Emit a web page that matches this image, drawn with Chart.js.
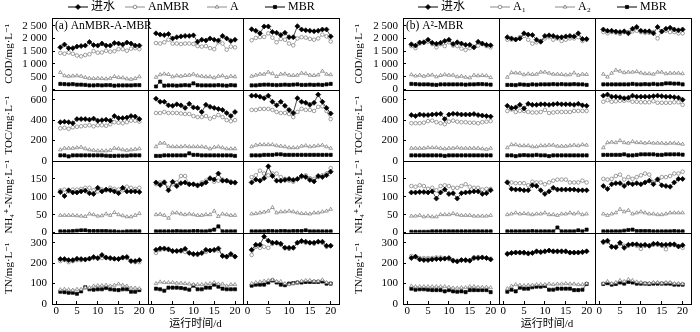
<!DOCTYPE html>
<html>
<head>
<meta charset="utf-8">
<script src="https://cdn.jsdelivr.net/npm/chart.js@4.4.1/dist/chart.umd.min.js"></script>
<style>
  html, body { margin: 0; padding: 0; background: #fff; }
  #wrap { position: relative; width: 700px; height: 332px; }
  #wrap canvas { position: absolute; top: 0; }
</style>
</head>
<body>
<div id="wrap">
  <canvas id="chart-a" width="350" height="332" style="left:0"></canvas>
  <canvas id="chart-b" width="350" height="332" style="left:350px"></canvas>
</div>
<script>
var days = [1, 2, 3, 4, 5, 6, 7, 8, 9, 10, 11, 12, 13, 14, 15, 16, 17, 18, 19, 20];
var dayTicks = [0, 5, 10, 15, 20];
var codTicks = [0, 500, 1000, 1500, 2000, 2500];
var tocTicks = [0, 200, 400, 600];
var nh4Ticks = [0, 50, 100, 150];
var tnTicks = [0, 100, 200, 300];

var seriesA = ['进水', 'AnMBR', 'A', 'MBR'];
var seriesB = ['进水', 'A₁', 'A₂', 'MBR'];

// (a) AnMBR-A-MBR — each cell holds [进水, AnMBR, A, MBR]
var codA1 = [
  [1650, 1760, 1620, 1620, 1680, 1700, 1720, 1860, 1740, 1720, 1800, 1720, 1720, 1820, 1800, 1760, 1840, 1800, 1720, 1720],
  [1430, 1400, 1450, 1400, 1330, 1300, 1350, 1380, 1500, 1440, 1450, 1520, 1480, 1500, 1580, 1580, 1520, 1600, 1620, 1580],
  [670, 540, 520, 530, 540, 520, 470, 440, 430, 440, 430, 420, 440, 510, 470, 460, 420, 400, 430, 500],
  [220, 210, 200, 210, 190, 190, 180, 160, 160, 170, 160, 170, 170, 150, 160, 160, 160, 160, 170, 170]
];
var codA2 = [
  [2200, 2150, 2130, 2170, 2000, 2050, 2080, 2100, 2100, 2120, 1870, 1950, 1920, 2000, 1950, 1920, 2100, 2000, 1900, 1950],
  [1820, 1800, 1850, 1950, 1800, 1800, 1780, 1800, 1800, 1780, 1700, 1680, 1700, 1620, 1580, 1850, 1800, 1560, 1680, 1650],
  [480, 580, 610, 590, 500, 540, 520, 550, 560, 600, 540, 520, 500, 500, 460, 520, 540, 470, 520, 500],
  [120, 310, 150, 160, 160, 150, 160, 170, 160, 240, 170, 160, 160, 160, 160, 170, 160, 150, 170, 160]
];
var codA3 = [
  [2360, 2300, 2200, 2470, 2470, 2250, 2220, 2130, 2220, 2050, 2050, 2480, 2350, 2320, 2300, 2280, 2300, 2350, 2350, 2080],
  [1930, 2020, 2050, 2060, 2200, 2030, 1850, 1980, 1950, 1800, 1730, 2000, 2050, 2030, 1980, 1950, 2000, 2150, 2080, 1880],
  [520, 560, 600, 600, 680, 620, 510, 600, 610, 560, 550, 560, 640, 620, 560, 550, 570, 720, 600, 580],
  [160, 160, 180, 190, 190, 180, 170, 180, 190, 180, 190, 200, 180, 180, 190, 180, 190, 180, 200, 220]
];
var tocA1 = [
  [380, 385, 380, 370, 410, 410, 410, 405, 415, 395, 400, 405, 395, 440, 420, 420, 425, 440, 435, 410],
  [320, 325, 315, 330, 335, 340, 345, 350, 340, 350, 350, 345, 360, 380, 375, 370, 380, 395, 395, 385],
  [110, 125, 125, 125, 130, 135, 120, 110, 105, 100, 100, 100, 105, 125, 120, 110, 105, 110, 115, 120],
  [55, 55, 45, 55, 55, 55, 55, 55, 55, 55, 55, 52, 50, 50, 52, 52, 52, 55, 55, 55]
];
var tocA2 = [
  [610, 580, 580, 545, 540, 555, 545, 520, 560, 525, 520, 480, 550, 530, 520, 510, 500, 470, 440, 480],
  [470, 470, 480, 470, 470, 470, 465, 460, 460, 440, 430, 430, 440, 415, 430, 450, 430, 400, 390, 400],
  [140, 175, 175, 145, 140, 140, 140, 145, 140, 140, 140, 140, 135, 120, 135, 140, 130, 120, 120, 120],
  [50, 50, 55, 55, 55, 55, 55, 55, 75, 60, 60, 55, 55, 55, 55, 55, 55, 55, 55, 50]
];
var tocA3 = [
  [640, 640, 630, 615, 640, 580, 545, 580, 540, 500, 470, 615, 580, 570, 550, 570, 650, 580, 520, 465],
  [500, 500, 510, 510, 510, 500, 480, 470, 470, 460, 430, 480, 510, 500, 500, 490, 530, 535, 490, 410],
  [140, 155, 160, 160, 160, 160, 150, 145, 140, 130, 130, 130, 145, 150, 140, 145, 150, 155, 140, 125],
  [55, 55, 55, 60, 60, 60, 65, 65, 60, 60, 60, 60, 60, 60, 60, 60, 60, 60, 60, 60]
];
var nh4A1 = [
  [113, 102, 118, 112, 112, 115, 117, 110, 108, 125, 115, 120, 118, 115, 110, 125, 115, 115, 115, 113],
  [118, 120, 115, 120, 120, 122, 125, 125, 118, 115, 120, 118, 125, 122, 120, 118, 128, 125, 122, 125],
  [48, 48, 48, 48, 47, 46, 45, 52, 50, 46, 47, 52, 48, 56, 50, 47, 44, 44, 48, 53],
  [3, 3, 3, 4, 5, 6, 6, 4, 4, 4, 4, 4, 3, 3, 2, 2, 3, 3, 3, 3]
];
var nh4A2 = [
  [140, 133, 140, 118, 142, 130, 138, 140, 135, 135, 132, 135, 140, 152, 148, 165, 145, 145, 140, 140],
  [135, 140, 142, 125, 135, 140, 158, 158, 135, 135, 130, 140, 145, 150, 142, 145, 148, 145, 143, 138],
  [50, 51, 48, 40, 55, 55, 52, 50, 52, 50, 48, 48, 50, 50, 60, 45, 52, 50, 48, 48],
  [3, 3, 3, 3, 3, 4, 3, 3, 3, 4, 4, 3, 3, 5, 8, 17, 3, 3, 3, 3]
];
var nh4A3 = [
  [140, 148, 145, 152, 185, 158, 145, 145, 147, 150, 147, 150, 158, 155, 147, 143, 158, 155, 160, 170],
  [155, 160, 173, 165, 160, 165, 165, 155, 150, 145, 142, 150, 155, 160, 152, 150, 155, 160, 165, 180],
  [52, 53, 55, 57, 60, 70, 55, 58, 58, 60, 58, 55, 53, 53, 52, 55, 55, 58, 60, 65],
  [3, 3, 3, 3, 4, 4, 3, 4, 4, 3, 4, 4, 4, 6, 3, 3, 3, 3, 3, 3]
];
var tnA1 = [
  [220, 220, 215, 215, 222, 220, 218, 222, 230, 225, 240, 228, 225, 222, 220, 228, 230, 210, 210, 215],
  [210, 215, 205, 210, 215, 215, 218, 222, 225, 222, 225, 225, 222, 220, 222, 225, 225, 210, 205, 205],
  [70, 72, 70, 68, 72, 72, 80, 80, 88, 90, 90, 92, 88, 92, 98, 92, 88, 78, 78, 75],
  [60, 58, 55, 55, 50, 62, 82, 72, 70, 72, 72, 78, 72, 70, 68, 72, 72, 60, 60, 68]
];
var tnA2 = [
  [265, 272, 272, 268, 260, 260, 262, 270, 250, 245, 245, 250, 265, 262, 265, 272, 235, 232, 245, 232],
  [250, 265, 268, 265, 258, 258, 258, 255, 250, 242, 240, 248, 255, 262, 262, 262, 238, 230, 240, 232],
  [100, 108, 105, 105, 105, 102, 102, 100, 98, 95, 95, 95, 98, 100, 105, 98, 98, 88, 95, 95],
  [75, 72, 65, 80, 80, 80, 78, 75, 70, 90, 72, 72, 80, 80, 95, 85, 75, 72, 72, 72]
];
var tnA3 = [
  [265, 290, 290, 330, 310, 300, 300, 295, 275, 275, 275, 300, 308, 305, 300, 300, 305, 305, 285, 285],
  [240, 280, 275, 280, 275, 295, 300, 290, 275, 270, 275, 300, 305, 300, 300, 295, 305, 300, 280, 285],
  [100, 105, 108, 112, 115, 118, 110, 110, 100, 95, 100, 105, 112, 115, 115, 112, 112, 118, 105, 100],
  [90, 95, 95, 95, 105, 115, 105, 95, 92, 100, 102, 105, 105, 108, 108, 108, 108, 110, 100, 100]
];

// (b) A²-MBR — each cell holds [进水, A₁, A₂, MBR]
var codB1 = [
  [1770, 1720, 1840, 1850, 1950, 1830, 1790, 1830, 1900, 1950, 1780, 1850, 1800, 1750, 1750, 1650, 1870, 1800, 1750, 1730],
  [1700, 1620, 1800, 1830, 1870, 1780, 1650, 1780, 1700, 1850, 1720, 1700, 1600, 1550, 1620, 1650, 1720, 1780, 1700, 1650],
  [580, 530, 560, 520, 560, 570, 500, 550, 580, 560, 560, 500, 520, 480, 460, 560, 540, 550, 540, 470],
  [220, 210, 200, 200, 200, 190, 180, 200, 200, 200, 200, 200, 200, 190, 200, 200, 210, 210, 200, 190]
];
var codB2 = [
  [2050, 2000, 1960, 2000, 2200, 2150, 2130, 1950, 1870, 2100, 2120, 2100, 2050, 2050, 2080, 2100, 2080, 2200, 1980, 1980],
  [1950, 1950, 1950, 2050, 2100, 1950, 1800, 1850, 1900, 2000, 2050, 1950, 2000, 1900, 1950, 2000, 2000, 2050, 1900, 1950],
  [480, 660, 650, 640, 580, 610, 590, 600, 680, 680, 640, 600, 600, 590, 570, 580, 650, 560, 600, 590],
  [180, 180, 170, 200, 190, 180, 200, 190, 200, 200, 200, 210, 200, 210, 200, 200, 210, 200, 200, 180]
];
var codB3 = [
  [2350, 2300, 2300, 2270, 2250, 2280, 2200, 2380, 2450, 2300, 2280, 2280, 2200, 2450, 2270, 2380, 2420, 2350, 2320, 2350],
  [2250, 2200, 2250, 2220, 2180, 2250, 2250, 2280, 2300, 2250, 2220, 2220, 2250, 2000, 2280, 2300, 2250, 2250, 2200, 2200],
  [600, 490, 640, 760, 720, 660, 680, 680, 700, 650, 620, 620, 600, 680, 680, 620, 640, 640, 640, 620],
  [200, 200, 200, 200, 200, 200, 200, 220, 200, 200, 210, 200, 220, 200, 210, 240, 240, 230, 230, 200]
];
var tocB1 = [
  [450, 440, 455, 450, 450, 455, 458, 462, 410, 455, 462, 460, 455, 455, 455, 460, 450, 445, 440, 435],
  [370, 370, 370, 375, 390, 395, 380, 370, 360, 385, 395, 385, 380, 380, 375, 375, 370, 380, 385, 390],
  [125, 125, 125, 125, 130, 130, 130, 125, 120, 125, 125, 130, 125, 125, 125, 125, 125, 120, 115, 125],
  [55, 55, 55, 55, 55, 55, 55, 55, 50, 55, 55, 55, 55, 55, 55, 55, 55, 55, 55, 55]
];
var tocB2 = [
  [540, 520, 525, 550, 515, 560, 550, 550, 555, 555, 550, 555, 560, 555, 555, 555, 550, 560, 545, 540],
  [490, 505, 480, 490, 490, 480, 475, 475, 480, 500, 470, 475, 480, 480, 480, 480, 490, 490, 490, 490],
  [130, 160, 160, 150, 150, 150, 140, 140, 150, 150, 155, 155, 145, 145, 145, 150, 155, 150, 160, 155],
  [55, 55, 48, 55, 58, 55, 55, 60, 55, 55, 48, 55, 55, 55, 55, 55, 55, 55, 55, 55]
];
var tocB3 = [
  [640, 650, 630, 630, 625, 615, 620, 640, 630, 630, 630, 630, 635, 640, 635, 630, 630, 625, 620, 600],
  [580, 595, 580, 585, 590, 590, 595, 580, 580, 575, 575, 575, 585, 570, 570, 570, 570, 575, 575, 550],
  [130, 180, 185, 180, 200, 180, 175, 190, 180, 180, 175, 180, 175, 175, 175, 170, 175, 175, 170, 165],
  [60, 60, 60, 60, 60, 65, 55, 55, 60, 65, 65, 65, 65, 60, 60, 65, 65, 65, 65, 62]
];
var nh4B1 = [
  [112, 112, 113, 113, 112, 115, 95, 112, 120, 108, 110, 95, 110, 112, 113, 115, 115, 108, 110, 118],
  [130, 128, 132, 130, 122, 125, 118, 130, 132, 130, 125, 125, 130, 135, 128, 125, 125, 120, 122, 122],
  [46, 46, 48, 44, 46, 44, 44, 50, 50, 50, 53, 50, 48, 48, 48, 46, 46, 46, 46, 48],
  [2, 2, 2, 2, 2, 3, 3, 3, 3, 3, 3, 3, 3, 3, 3, 3, 3, 3, 3, 3]
];
var nh4B2 = [
  [140, 122, 120, 120, 118, 118, 132, 130, 118, 108, 115, 125, 120, 120, 120, 120, 120, 118, 118, 118],
  [142, 140, 138, 138, 138, 132, 142, 140, 140, 135, 140, 145, 148, 148, 148, 140, 140, 140, 145, 140],
  [50, 52, 55, 52, 53, 52, 50, 52, 52, 55, 50, 50, 48, 52, 52, 55, 52, 55, 50, 52],
  [3, 3, 3, 3, 3, 3, 4, 3, 3, 3, 3, 3, 14, 3, 3, 3, 3, 6, 3, 8]
];
var nh4B3 = [
  [130, 122, 135, 138, 138, 130, 138, 135, 138, 135, 140, 145, 135, 148, 132, 130, 128, 140, 150, 150],
  [150, 148, 150, 158, 162, 148, 155, 150, 155, 160, 165, 162, 140, 150, 155, 155, 158, 165, 165, 170],
  [52, 48, 52, 55, 65, 58, 62, 52, 55, 58, 55, 52, 52, 50, 50, 52, 55, 55, 55, 55],
  [3, 3, 3, 3, 3, 5, 7, 8, 4, 4, 4, 4, 3, 3, 3, 3, 3, 4, 3, 3]
];
var tnB1 = [
  [225, 232, 218, 215, 215, 218, 220, 220, 222, 225, 212, 208, 215, 215, 212, 225, 225, 228, 225, 218],
  [235, 230, 225, 225, 225, 225, 228, 228, 225, 220, 215, 212, 215, 212, 215, 228, 230, 228, 225, 222],
  [88, 85, 85, 85, 85, 85, 85, 85, 85, 82, 78, 78, 80, 80, 85, 85, 82, 82, 82, 80],
  [75, 70, 72, 72, 70, 68, 68, 68, 62, 68, 62, 60, 62, 58, 68, 68, 68, 68, 68, 58]
];
var tnB2 = [
  [245, 250, 252, 252, 252, 248, 250, 258, 255, 258, 262, 258, 258, 258, 258, 252, 252, 252, 255, 258],
  [248, 250, 252, 250, 248, 245, 250, 255, 252, 255, 260, 255, 255, 255, 255, 250, 250, 252, 252, 258],
  [75, 88, 95, 92, 90, 92, 92, 95, 95, 95, 98, 95, 98, 98, 100, 98, 98, 95, 95, 100],
  [60, 70, 62, 80, 75, 75, 82, 85, 85, 88, 70, 70, 75, 75, 75, 75, 68, 68, 70, 98]
];
var tnB3 = [
  [305, 310, 280, 278, 300, 275, 290, 292, 292, 288, 290, 285, 295, 295, 290, 290, 292, 292, 282, 288],
  [300, 305, 280, 280, 295, 285, 285, 292, 285, 270, 285, 285, 290, 290, 285, 268, 288, 288, 282, 275],
  [100, 110, 100, 105, 115, 110, 120, 115, 108, 105, 102, 102, 105, 105, 102, 105, 105, 100, 100, 98],
  [98, 102, 95, 98, 105, 100, 108, 105, 100, 100, 100, 98, 100, 100, 100, 100, 100, 95, 95, 95]
];

var serif = "'Liberation Serif', 'Times New Roman', 'DejaVu Serif', serif";
var cjk = "'Liberation Serif', 'Noto Sans CJK SC', serif";

// line / marker look of the four stages, same order as the series labels
var styles = [
  { line: '#000', point: 'rectRot', radius: 2.5, fill: '#000', edge: '#000' },
  { line: '#8c8c8c', point: 'circle', radius: 1.8, fill: '#fff', edge: '#777' },
  { line: '#8c8c8c', point: 'triangle', radius: 2.1, fill: '#fff', edge: '#777' },
  { line: '#000', point: 'rect', radius: 2.2, fill: '#000', edge: '#000' }
];

var rowDefs = [
  { title: 'COD/mg·L⁻¹', max: 2800, ticks: codTicks },
  { title: 'TOC/mg·L⁻¹', max: 700, ticks: tocTicks },
  { title: 'NH₄⁺-N/mg·L⁻¹', max: 200, ticks: nh4Ticks },
  { title: 'TN/mg·L⁻¹', max: 350, ticks: tnTicks }
];

function fmtTick(v) {
  if (v >= 1000) return Math.floor(v / 1000) + ' ' + String(v % 1000).padStart(3, '0');
  return String(v);
}

// frames around every cell, the key on top and the panel caption
var panelPlugin = {
  id: 'panelDecor',
  afterDraw: function(chart, args, opts) {
    var ctx = chart.ctx;
    ctx.save();
    ctx.strokeStyle = '#000';
    ctx.lineWidth = 1;
    ['x1', 'x2', 'x3'].forEach(function(xid) {
      ['y1', 'y2', 'y3', 'y4'].forEach(function(yid) {
        var xs = chart.scales[xid], ys = chart.scales[yid];
        var l = Math.round(xs.left), r = Math.round(xs.right);
        var t = Math.round(ys.top), b = Math.round(ys.bottom);
        ctx.strokeRect(l + 0.5, t + 0.5, r - l, b - t);
      });
    });

    opts.keyX.forEach(function(x, i) {
      var st = styles[i], y = opts.keyY;
      ctx.strokeStyle = st.line;
      ctx.lineWidth = 1;
      ctx.beginPath();
      ctx.moveTo(x, y);
      ctx.lineTo(x + 20, y);
      ctx.stroke();
      ctx.fillStyle = st.fill;
      ctx.strokeStyle = st.edge;
      ctx.lineWidth = 0.8;
      Chart.helpers.drawPoint(ctx, { pointStyle: st.point, radius: st.radius, rotation: 0, borderWidth: 0.8 }, x + 10, y);
      ctx.fillStyle = '#000';
      ctx.font = '12px ' + cjk;
      ctx.textBaseline = 'middle';
      ctx.textAlign = 'left';
      ctx.fillText(opts.labels[i], x + 23, y);
    });

    ctx.fillStyle = '#000';
    ctx.font = '11.5px ' + serif;
    ctx.textBaseline = 'middle';
    ctx.fillText(opts.caption, chart.scales.x1.left + 3, chart.scales.y1.top + 8);
    ctx.restore();
  }
};

function buildPanel(canvasId, cells, labels, caption, keyX, axisWidth, padRight) {
  var datasets = [];
  cells.forEach(function(rowCells, r) {
    rowCells.forEach(function(cell, c) {
      cell.forEach(function(values, k) {
        var st = styles[k];
        datasets.push({
          label: labels[k],
          data: days.map(function(d, i) { return { x: d, y: values[i] }; }),
          xAxisID: 'x' + (c + 1),
          yAxisID: 'y' + (r + 1),
          borderColor: st.line,
          borderWidth: 0.7,
          pointStyle: st.point,
          pointRadius: st.radius,
          pointBackgroundColor: st.fill,
          pointBorderColor: st.edge,
          pointBorderWidth: 0.7,
          tension: 0,
          fill: false
        });
      });
    });
  });

  var scales = {};
  rowDefs.forEach(function(row, r) {
    scales['y' + (r + 1)] = {
      type: 'linear',
      position: 'left',
      stack: 'rows',
      stackWeight: 1,
      weight: 4 - r,
      min: 0,
      max: row.max,
      afterBuildTicks: function(s) { s.ticks = row.ticks.map(function(v) { return { value: v }; }); },
      afterFit: function(s) { s.width = axisWidth; },
      grid: { display: true, drawOnChartArea: false, drawTicks: true, tickLength: -3, tickColor: '#000', tickWidth: 1 },
      border: { display: false },
      ticks: { color: '#000', padding: 8, autoSkip: false, font: { family: serif, size: 11 }, callback: fmtTick },
      title: { display: true, text: row.title, color: '#000', font: { family: serif, size: 11 }, padding: { top: 3, bottom: 0 } }
    };
  });
  [1, 2, 3].forEach(function(n) {
    scales['x' + n] = {
      type: 'linear',
      position: 'bottom',
      stack: 'cols',
      stackWeight: 1,
      weight: n,
      min: -1,
      max: 22,
      afterBuildTicks: function(s) { s.ticks = dayTicks.map(function(v) { return { value: v }; }); },
      afterFit: function(s) { s.height = 28; },
      grid: { display: true, drawOnChartArea: false, drawTicks: true, tickLength: -3, tickColor: '#000', tickWidth: 1 },
      border: { display: false },
      ticks: { color: '#000', padding: 4, maxRotation: 0, autoSkip: false, font: { family: serif, size: 11 } },
      title: { display: n === 2, text: '运行时间/d', color: '#000', font: { family: cjk, size: 11 }, padding: { top: 0, bottom: 1 } }
    };
  });

  return new Chart(document.getElementById(canvasId).getContext('2d'), {
    type: 'line',
    data: { datasets: datasets },
    plugins: [panelPlugin],
    options: {
      responsive: false,
      animation: false,
      devicePixelRatio: 1,
      layout: { autoPadding: false, padding: { top: 18, right: padRight, bottom: 0, left: 0 } },
      scales: scales,
      plugins: {
        legend: { display: false },
        tooltip: { enabled: false },
        panelDecor: { keyX: keyX, keyY: 7, labels: labels, caption: caption }
      }
    }
  });
}

buildPanel('chart-a',
  [[codA1, codA2, codA3], [tocA1, tocA2, tocA3], [nh4A1, nh4A2, nh4A3], [tnA1, tnA2, tnA3]],
  seriesA, '(a) AnMBR-A-MBR', [68, 125, 207, 265], 52, 11);

buildPanel('chart-b',
  [[codB1, codB2, codB3], [tocB1, tocB2, tocB3], [nh4B1, nh4B2, nh4B3], [tnB1, tnB2, tnB3]],
  seriesB, '(b) A²-MBR', [68, 140, 205, 267], 53, 4);
</script>
</body>
</html>
